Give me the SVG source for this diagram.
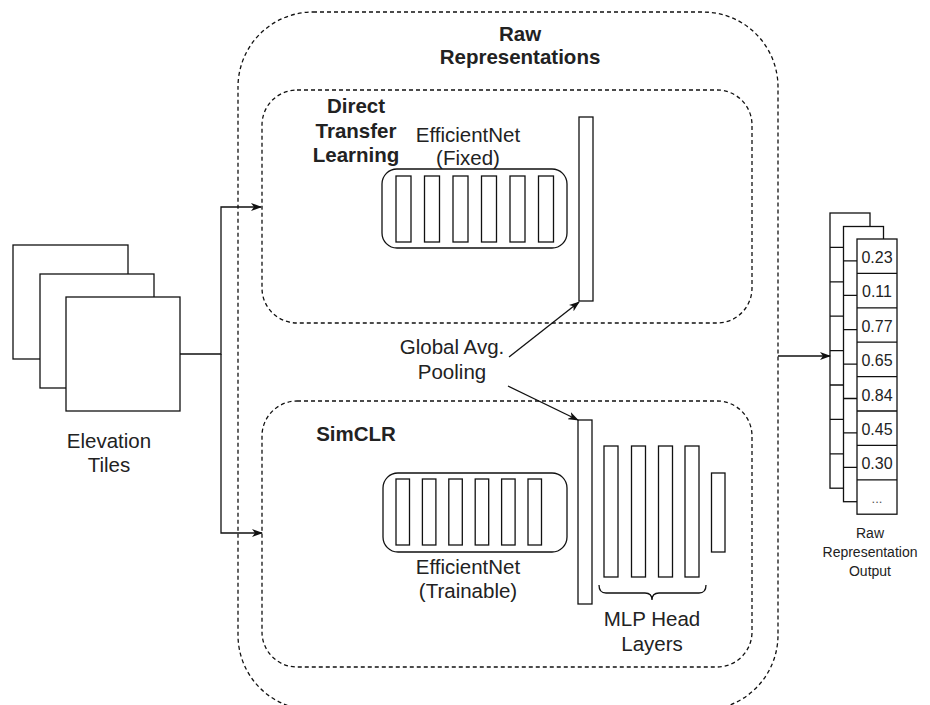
<svg xmlns="http://www.w3.org/2000/svg" width="930" height="705" viewBox="0 0 930 705">
<defs>
<marker id="arr" markerWidth="11" markerHeight="8" refX="10" refY="4" orient="auto" markerUnits="userSpaceOnUse">
<path d="M0,0 L11,4 L0,8 L3,4 z" fill="#111"/>
</marker>
<style>
.t{font-family:"Liberation Sans",Arial,sans-serif;font-size:20.5px;fill:#222;text-anchor:middle}
.b{font-weight:bold}
.s{font-size:14px}
.n{font-size:16px}
.box{fill:#fff;stroke:#111;stroke-width:1.3}
.dash{fill:none;stroke:#111;stroke-width:1.3;stroke-dasharray:4 3}
.ln{fill:none;stroke:#111;stroke-width:1.3}
</style>
</defs>
<rect width="930" height="705" fill="#fff"/>

<g id="raw-representations">
<rect class="dash" x="238" y="12" width="540" height="698" rx="75" ry="75"/>
<text class="t b" x="520" y="41">Raw</text>
<text class="t b" x="520" y="64">Representations</text>
</g>

<g id="direct-transfer">
<rect class="dash" x="262" y="90" width="490" height="233" rx="35" ry="35"/>
<text class="t b" x="356" y="113">Direct</text>
<text class="t b" x="356" y="138">Transfer</text>
<text class="t b" x="356" y="162">Learning</text>
</g>

<g id="efficientnet-fixed">
<text class="t" x="468" y="142">EfficientNet</text>
<text class="t" x="468" y="165">(Fixed)</text>
<rect class="box" x="382" y="169" width="185" height="79" rx="15" ry="15"/>
<rect class="box" x="396" y="176" width="15" height="66"/>
<rect class="box" x="424.5" y="176" width="15" height="66"/>
<rect class="box" x="453" y="176" width="15" height="66"/>
<rect class="box" x="481.5" y="176" width="15" height="66"/>
<rect class="box" x="510" y="176" width="15" height="66"/>
<rect class="box" x="538.5" y="176" width="15" height="66"/>
</g>

<g id="gap-top">
<rect class="box" x="579" y="117" width="14" height="184"/>
</g>

<g id="simclr">
<rect class="dash" x="262" y="401" width="490" height="266" rx="35" ry="35"/>
<text class="t b" x="356" y="441">SimCLR</text>
</g>

<g id="efficientnet-trainable">
<rect class="box" x="383" y="473" width="184" height="79" rx="15" ry="15"/>
<rect class="box" x="396" y="479" width="13.5" height="66"/>
<rect class="box" x="422.4" y="479" width="13.5" height="66"/>
<rect class="box" x="448.8" y="479" width="13.5" height="66"/>
<rect class="box" x="475.2" y="479" width="13.5" height="66"/>
<rect class="box" x="501.6" y="479" width="13.5" height="66"/>
<rect class="box" x="528" y="479" width="13.5" height="66"/>
<text class="t" x="468" y="574">EfficientNet</text>
<text class="t" x="468" y="598">(Trainable)</text>
</g>

<g id="gap-bottom">
<rect class="box" x="578" y="420" width="14" height="184"/>
</g>

<g id="mlp-head">
<rect class="box" x="604" y="446" width="14" height="131"/>
<rect class="box" x="631.5" y="446" width="14" height="131"/>
<rect class="box" x="658.5" y="446" width="14" height="131"/>
<rect class="box" x="685" y="446" width="14" height="131"/>
<rect class="box" x="711.5" y="473" width="13.5" height="79"/>
<path class="ln" d="M599,585 Q599,593 606,593 L645,593 Q652,593 652,600 Q652,593 659,593 L699,593 Q706,593 706,585"/>
<text class="t" x="652" y="626">MLP Head</text>
<text class="t" x="652" y="651">Layers</text>
</g>

<g id="global-avg-pooling">
<text class="t" x="452" y="354">Global Avg.</text>
<text class="t" x="452" y="379">Pooling</text>
</g>

<g id="elevation-tiles">
<rect class="box" x="13" y="245" width="115" height="114"/>
<rect class="box" x="40" y="274" width="114" height="114"/>
<rect class="box" x="66" y="297" width="114" height="114"/>
<text class="t" x="109" y="448">Elevation</text>
<text class="t" x="109" y="472">Tiles</text>
</g>

<g id="output">
<rect class="box" x="830" y="213" width="40" height="275.2"/>
<path class="ln" d="M830,247.4H870M830,281.8H870M830,316.2H870M830,350.6H870M830,385H870M830,419.4H870M830,453.8H870"/>
<rect class="box" x="843.5" y="226.5" width="40" height="275.2"/>
<path class="ln" d="M843.5,260.9H883.5M843.5,295.3H883.5M843.5,329.7H883.5M843.5,364.1H883.5M843.5,398.5H883.5M843.5,432.9H883.5M843.5,467.3H883.5"/>
<rect class="box" x="857" y="239" width="40" height="275.2"/>
<path class="ln" d="M857,273.4H897M857,307.8H897M857,342.2H897M857,376.6H897M857,411H897M857,445.4H897M857,479.8H897"/>
<text class="t n" x="877" y="263">0.23</text>
<text class="t n" x="877" y="297.4">0.11</text>
<text class="t n" x="877" y="331.8">0.77</text>
<text class="t n" x="877" y="366.2">0.65</text>
<text class="t n" x="877" y="400.6">0.84</text>
<text class="t n" x="877" y="435">0.45</text>
<text class="t n" x="877" y="469.4">0.30</text>
<text class="t n" x="877" y="503" style="font-size:13px;fill:#555">...</text>
<text class="t s" x="870" y="538">Raw</text>
<text class="t s" x="870" y="557">Representation</text>
<text class="t s" x="870" y="576">Output</text>
</g>

<g id="connectors">
<path class="ln" d="M180,354 H221 V207 H261" marker-end="url(#arr)"/>
<path class="ln" d="M221,354 V533 H262" marker-end="url(#arr)"/>
<path class="ln" d="M509,357 L579,302" marker-end="url(#arr)"/>
<path class="ln" d="M508,386 L578,420" marker-end="url(#arr)"/>
<path class="ln" d="M778,356 H830" marker-end="url(#arr)"/>
</g>
</svg>
